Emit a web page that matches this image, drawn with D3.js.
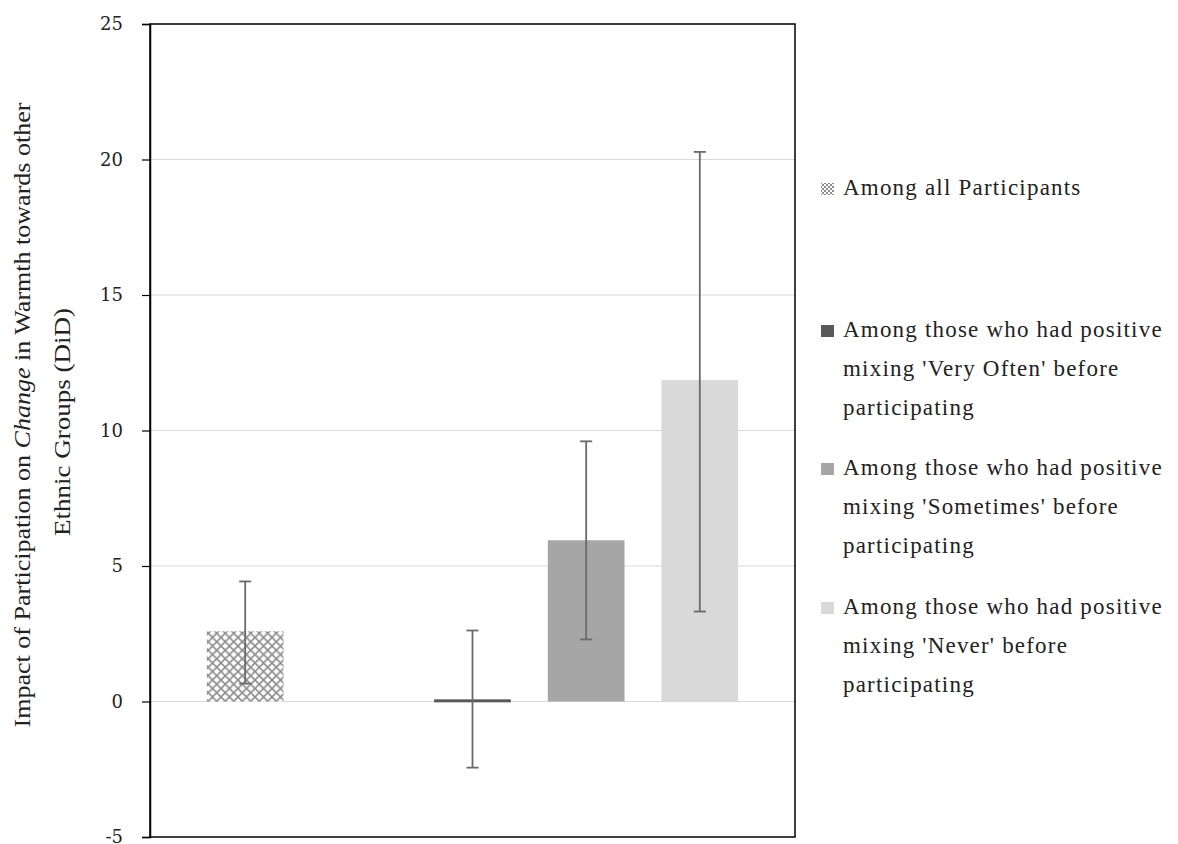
<!DOCTYPE html>
<html>
<head>
<meta charset="utf-8">
<script src="https://cdn.jsdelivr.net/npm/d3@7"></script>
<style>
  body { margin: 0; background: #fff; }
  svg { display: block; }
</style>
</head>
<body>
<div id="figure"></div>
<script>
// chart data
var groups = ["all", "gap", "veryOften", "sometimes", "never"];
var values = [2.59, null, 0.08, 5.95, 11.86];
var errLow = [0.66, null, -2.44, 2.29, 3.32];
var errHigh = [4.43, null, 2.62, 9.6, 20.28];
var yTicks = [-5, 0, 5, 10, 15, 20, 25];
var legendLabels = [
    ["Among all Participants"],
    ["Among those who had positive", "mixing 'Very Often' before", "participating"],
    ["Among those who had positive", "mixing 'Sometimes' before", "participating"],
    ["Among those who had positive", "mixing 'Never' before", "participating"]
];

var width = 1178, height = 844;
var margin = { top: 24, right: 383, bottom: 7, left: 150 };
var fills = ["url(#lattice)", "none", "#595959", "#a6a6a6", "#d9d9d9"];
var serif = "'Liberation Serif', 'DejaVu Serif', serif";

var svg = d3.select("#figure")
    .append("svg")
    .attr("width", width)
    .attr("height", height)

// hatch pattern for the first bar
var defs = svg.append("defs")
var pat = defs.append("pattern")
    .attr("id", "lattice")
    .attr("patternUnits", "userSpaceOnUse")
    .attr("width", 8.5)
    .attr("height", 8.5)
pat.append("rect").attr("width", 8.5).attr("height", 8.5).attr("fill", "#fff")
pat.append("path")
    .attr("d", "M0,0 L8.5,8.5 M8.5,0 L0,8.5")
    .attr("stroke", "#8c8c8c")
    .attr("stroke-width", 1.6)
    .attr("fill", "none")

// smaller version for the legend key
var patSmall = defs.append("pattern")
    .attr("id", "latticeSmall")
    .attr("patternUnits", "userSpaceOnUse")
    .attr("width", 4)
    .attr("height", 4)
patSmall.append("rect").attr("width", 4).attr("height", 4).attr("fill", "#fff")
patSmall.append("path")
    .attr("d", "M0,0 L4,4 M4,0 L0,4")
    .attr("stroke", "#8c8c8c")
    .attr("stroke-width", 1)
    .attr("fill", "none")

var x = d3.scaleBand()
    .domain(groups)
    .range([margin.left, width - margin.right])
    .paddingInner(0.325)
    .paddingOuter(0.5)

var y = d3.scaleLinear()
    .domain([-5, 25])
    .range([height - margin.bottom, margin.top])

// gridlines
svg.append("g")
    .selectAll("line")
    .data(yTicks.slice(1, -1))
    .enter()
    .append("line")
    .attr("x1", margin.left)
    .attr("x2", width - margin.right)
    .attr("y1", function (d) { return y(d) })
    .attr("y2", function (d) { return y(d) })
    .attr("stroke", "#d9d9d9")
    .attr("stroke-width", 1.2)

var data = groups.map(function (g, i) {
    return { key: g, v: values[i], lo: errLow[i], hi: errHigh[i], fill: fills[i] };
}).filter(function (d) { return d.v !== null });

// bars
svg.append("g")
    .selectAll("rect")
    .data(data)
    .enter()
    .append("rect")
    .attr("x", function (d) { return x(d.key) })
    .attr("width", x.bandwidth())
    .attr("y", function (d) { return y(Math.max(0, d.v)) })
    .attr("height", function (d) { return Math.max(Math.abs(y(d.v) - y(0)), 3) })
    .attr("fill", function (d) { return d.fill })

// error bars
var eb = svg.append("g")
    .attr("stroke", "#6a6a6a")
    .attr("stroke-width", 1.8)
    .selectAll("g")
    .data(data)
    .enter()
    .append("g")
    .attr("transform", function (d) { return "translate(" + (x(d.key) + x.bandwidth() / 2) + ",0)" })
eb.append("line")
    .attr("y1", function (d) { return y(d.lo) })
    .attr("y2", function (d) { return y(d.hi) })
eb.append("line")
    .attr("x1", -6).attr("x2", 6)
    .attr("y1", function (d) { return y(d.hi) })
    .attr("y2", function (d) { return y(d.hi) })
eb.append("line")
    .attr("x1", -6).attr("x2", 6)
    .attr("y1", function (d) { return y(d.lo) })
    .attr("y2", function (d) { return y(d.lo) })

// frame
svg.append("rect")
    .attr("x", margin.left)
    .attr("y", margin.top)
    .attr("width", width - margin.right - margin.left)
    .attr("height", height - margin.bottom - margin.top)
    .attr("fill", "none")
    .attr("stroke", "#000")
    .attr("stroke-width", 1.5)

// y axis
var yAxis = svg.append("g")
    .attr("transform", "translate(" + margin.left + ",0)")
    .call(d3.axisLeft(y).tickValues(yTicks).tickSize(8).tickPadding(19))
yAxis.select(".domain").attr("stroke", "#000").attr("stroke-width", 1.5)
yAxis.selectAll(".tick line").attr("stroke", "#000").attr("stroke-width", 1.2)
yAxis.selectAll(".tick text")
    .attr("font-family", "'DejaVu Serif', serif")
    .attr("font-size", 18)
    .attr("fill", "#222")
    .text(function (d) { return d < 0 ? "-" + Math.abs(d) : d })

// y axis title (two lines)
var t1 = svg.append("text")
    .attr("transform", "translate(22,415) rotate(-90)")
    .attr("text-anchor", "middle")
    .attr("dominant-baseline", "central")
    .attr("font-family", serif)
    .attr("font-size", 23)
    .attr("fill", "#222")
    .attr("textLength", 625)
    .attr("lengthAdjust", "spacingAndGlyphs")
t1.append("tspan").text("Impact of Participation on ")
t1.append("tspan").attr("font-style", "italic").text("Change")
t1.append("tspan").text(" in Warmth towards other")

svg.append("text")
    .attr("transform", "translate(62,422) rotate(-90)")
    .attr("text-anchor", "middle")
    .attr("dominant-baseline", "central")
    .attr("font-family", serif)
    .attr("font-size", 23)
    .attr("fill", "#222")
    .attr("textLength", 228)
    .attr("lengthAdjust", "spacingAndGlyphs")
    .text("Ethnic Groups (DiD)")

// legend
var legendTop = [195, 337, 475, 614];
var legendFills = ["url(#latticeSmall)", "#595959", "#a6a6a6", "#d9d9d9"];
var lg = svg.append("g")
    .selectAll("g")
    .data(legendLabels)
    .enter()
    .append("g")
    .attr("transform", function (d, i) { return "translate(821," + legendTop[i] + ")" })
lg.append("rect")
    .attr("x", 0)
    .attr("y", -12)
    .attr("width", 13)
    .attr("height", 12)
    .attr("fill", function (d, i) { return legendFills[i] })
lg.selectAll("text")
    .data(function (d) { return d })
    .enter()
    .append("text")
    .attr("x", 22)
    .attr("y", function (d, j) { return j * 39 })
    .attr("font-family", serif)
    .attr("font-size", 23)
    .attr("letter-spacing", 1.2)
    .attr("fill", "#222")
    .text(function (d) { return d })
</script>
</body>
</html>
